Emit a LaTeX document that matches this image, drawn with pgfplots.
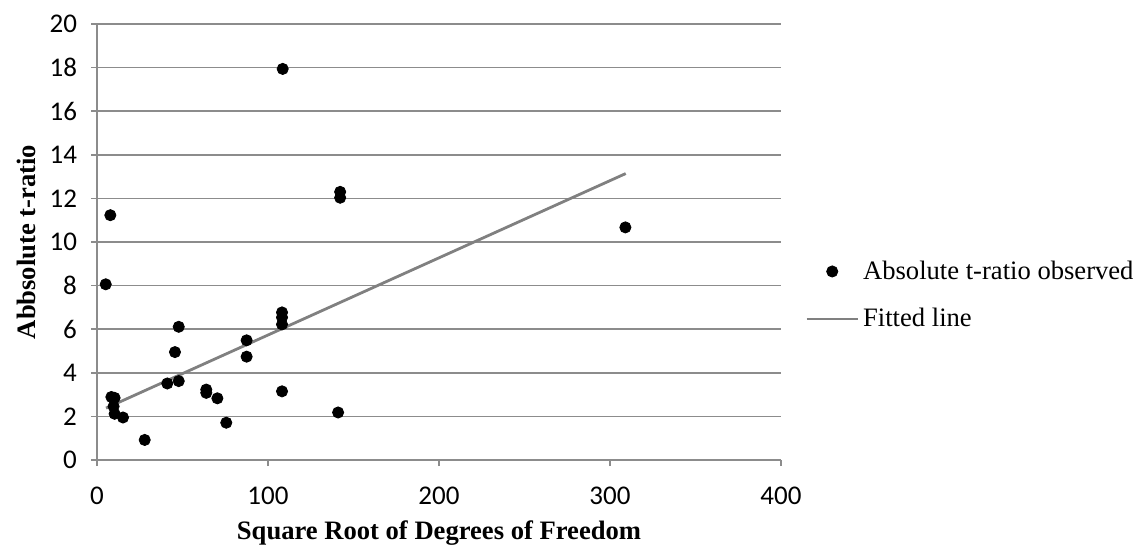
\documentclass[border=0pt]{standalone}
\usepackage{fontspec}
\setmainfont{Liberation Serif}
\newfontfamily\carlito{Carlito}
\usepackage{pgfplots}
\pgfplotsset{compat=1.18}
\pgfplotsset{
  fitline legend/.style={legend image code/.code={\draw[##1] (0pt,0pt) -- (25.5pt,0pt);}},
  dot legend/.style={legend image code/.code={\draw[mark repeat=2,mark phase=2,##1] plot coordinates {(0pt,0pt) (12.75pt,0pt) (25.5pt,0pt)};}}}
\begin{document}
\begin{tikzpicture}
\path[use as bounding box] (0,0) rectangle (568.5pt,273.5pt);
\begin{axis}[
  at={(48.5pt,43.5pt)}, anchor=south west,
  scale only axis, width=342pt, height=218pt,
  xmin=0, xmax=400, ymin=0, ymax=20,
  xtick={0,100,200,300,400}, ytick={0,2,...,20},
  axis x line*=bottom, axis y line*=left,
  axis line style={draw=black!45, line width=0.8pt, -},
  tick style={draw=black!45, line width=0.8pt},
  tick align=outside, major tick length=3pt,
  ymajorgrids, grid style={black!45, line width=0.8pt},
  tick label style={font=\carlito\fontsize{13.5}{13.5}\selectfont, /pgf/number format/assume math mode=true},
  xticklabel style={yshift=-7pt},
  yticklabel style={xshift=-3.5pt},
  label style={font=\bfseries\fontsize{13.3}{14}\selectfont},
  xlabel={Square Root of Degrees of Freedom},
  xlabel style={yshift=-1pt},
  ylabel={Abbsolute t-ratio},
  ylabel style={yshift=0pt},
  legend style={at={(1.035,0.378)}, anchor=west, draw=none, fill=none,
    font=\fontsize{13.3}{14}\selectfont, row sep=9pt, inner sep=0pt},
  legend cell align=left,
  clip=false]
\addplot[only marks, mark=*, mark size=2.8pt, black, dot legend] coordinates {
(7.8,11.23) (5.1,8.06) (8.4,2.89) (10.3,2.85) (9.7,2.46) (10.3,2.12)
(15.2,1.95) (27.9,0.92) (41.1,3.51) (45.6,4.95) (47.8,6.11) (47.8,3.62)
(63.9,3.23) (63.9,3.08) (70.4,2.83) (75.6,1.71) (87.5,5.49) (87.5,4.74)
(108.6,17.94) (108.2,6.77) (108.2,6.54) (108.2,6.22) (108.2,3.15)
(141,2.18) (142.2,12.3) (142.2,12.03) (309,10.67)};
\addlegendentry{Absolute t-ratio observed}
\addplot[no marks, draw=black!50, line width=1.4pt, fitline legend] coordinates {
(5.3,2.38) (309.2,13.14)};
\addlegendentry{Fitted line}
\end{axis}
\end{tikzpicture}
\end{document}
